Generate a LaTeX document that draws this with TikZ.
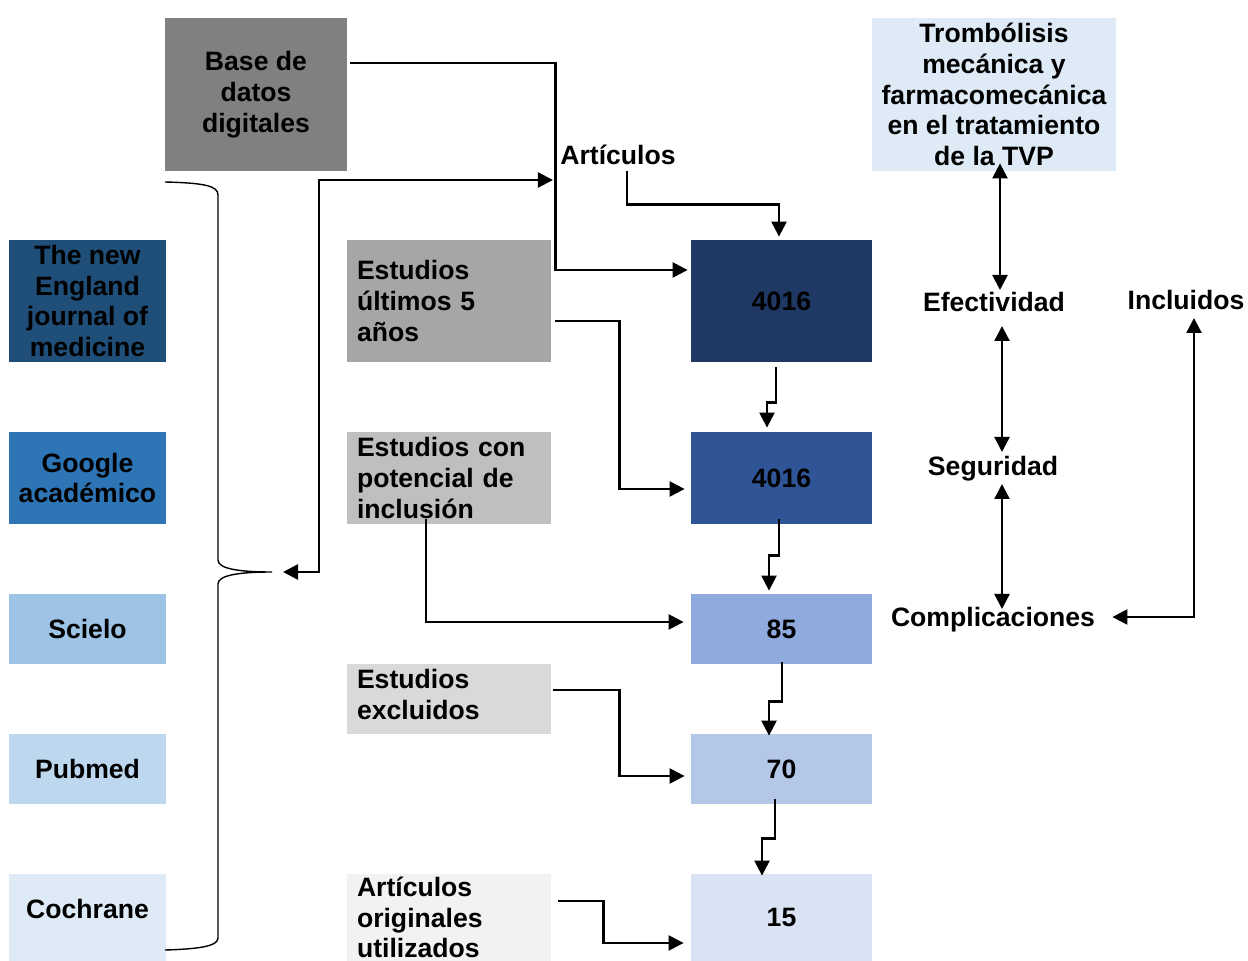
\documentclass[tikz,border=0pt]{standalone}
\usepackage{fontspec}
\setmainfont{Liberation Sans}
\usepackage{tikz}
\usetikzlibrary{arrows.meta, calc}
\definecolor{BaseGray}{RGB}{128,128,128}
\definecolor{StepGrayA}{RGB}{166,166,166}
\definecolor{StepGrayB}{RGB}{191,191,191}
\definecolor{StepGrayC}{RGB}{217,217,217}
\definecolor{StepGrayD}{RGB}{242,242,242}
\definecolor{SrcNavy}{RGB}{31,78,121}
\definecolor{SrcBlue}{RGB}{46,117,182}
\definecolor{SrcSky}{RGB}{157,195,230}
\definecolor{SrcPale}{RGB}{189,215,238}
\definecolor{SrcMist}{RGB}{222,235,247}
\definecolor{NumA}{RGB}{32,56,100}
\definecolor{NumB}{RGB}{47,85,151}
\definecolor{NumC}{RGB}{143,170,220}
\definecolor{NumD}{RGB}{180,199,231}
\definecolor{NumE}{RGB}{218,227,243}

\begin{document}
\begin{tikzpicture}[x=0.5pt,y=-0.5pt,
  every node/.style={font=\fontsize{13.3}{15.4}\selectfont\bfseries, inner sep=0pt},
  srcbox/.style={minimum width=78.5pt, align=center},
  graybox/.style={inner xsep=5pt, text width=92pt, align=left},
  numbox/.style={minimum width=90.5pt},
  conn/.style={line width=1.2pt, -{Triangle[length=7.5pt,width=7.5pt]}},
  both/.style={line width=1.2pt, {Triangle[length=7.5pt,width=7.5pt]}-{Triangle[length=7.5pt,width=7.5pt]}}]
  \path[use as bounding box] (0,0) rectangle (1248,961);

  % top boxes
  \node[fill=BaseGray, minimum width=91pt, minimum height=76.5pt, align=center] (base) at (256,94.5) {Base de\\datos\\digitales};
  \node[fill=SrcMist, minimum width=122pt, minimum height=76.5pt, align=center] (tromb) at (994,94.5)
    {Trombólisis\\mecánica y\\farmacomecánica\\en el tratamiento\\de la TVP};

  % sources
  \node[srcbox, fill=SrcNavy, minimum height=61pt] (nejm) at (87.5,301) {The new\\England\\journal of\\medicine};
  \node[srcbox, fill=SrcBlue, minimum height=46pt] (google) at (87.5,478) {Google\\académico};
  \node[srcbox, fill=SrcSky, minimum height=35pt] (scielo) at (87.5,629) {Scielo};
  \node[srcbox, fill=SrcPale, minimum height=35pt] (pubmed) at (87.5,769) {Pubmed};
  \node[srcbox, fill=SrcMist, minimum height=43.5pt] (cochrane) at (87.5,917.5) {Cochrane\\[-6.4pt]\mbox{}};

  % steps
  \node[graybox, fill=StepGrayA, minimum height=61pt] (ult) at (449,301) {Estudios\\últimos 5\\años};
  \node[graybox, fill=StepGrayB, minimum height=46pt] (pot) at (449,478) {Estudios con\\potencial de\\inclusión};
  \node[graybox, fill=StepGrayC, minimum height=35pt] (excl) at (449,699) {Estudios\\excluidos\\[-10.4pt]\mbox{}};
  \node[graybox, fill=StepGrayD, minimum height=43.5pt] (orig) at (449,917.5) {Artículos\\originales\\utilizados};

  % counts
  \node[numbox, fill=NumA, minimum height=61pt] (n1) at (781.5,301) {4016};
  \node[numbox, fill=NumB, minimum height=46pt] (n2) at (781.5,478) {4016};
  \node[numbox, fill=NumC, minimum height=35pt] (n3) at (781.5,629) {85};
  \node[numbox, fill=NumD, minimum height=35pt] (n4) at (781.5,769) {70};
  \node[numbox, fill=NumE, minimum height=43.5pt] (n5) at (781.5,917.5) {15};

  % labels
  \node (art) at (618,155) {Artículos};
  \node (efec) at (994,302) {Efectividad};
  \node (incl) at (1186,300) {Incluidos};
  \node (seg) at (993,469) {Seguridad};
  \node (compl) at (993,620) {Complicaciones};

  % brace
  \coordinate (tip) at (272,572);
  \draw[line width=0.7pt] (165,182) .. controls (205,183) and (218,186) .. (218,195) -- (218,560)
    .. controls (218,569) and (240,572) .. (tip)
    .. controls (240,572) and (218,575) .. (218,584) -- (218,938)
    .. controls (218,946) and (200,949) .. (165,950);

  % connectors
  \draw[conn] ($(base.east)+(3,-31.5)$) -- ++(205,0) |- ($(n1.west)+(-3,-31)$);
  \draw[both] ($(tip)+(11,0)$) -- ++(36,0) |- ($(art.west)+(-7,25)$);
  \draw[conn] ($(art.south)+(9,6)$) |- ($(n1.north)+(-2.5,-35)$) -- ($(n1.north)+(-2.5,-3)$);
  \draw[conn] ($(ult.east)+(4,20)$) -- ++(64,0) |- ($(n2.west)+(-6,11)$);
  \draw[conn] ($(n1.south)+(-5.5,5)$) -- ++(0,35) -| ($(n2.north)+(-14.5,-4)$);
  \draw[conn] ($(n2.south)+(-2.5,-5)$) -- ++(0,36) -| ($(n3.north)+(-12.5,-3)$);
  \draw[conn] ($(pot.south)+(-23,-5)$) |- ($(n3.west)+(-7,-7)$);
  \draw[conn] ($(n3.south)+(0.5,-2)$) -- ++(0,39) -| ($(n4.north)+(-12.5,2)$);
  \draw[conn] ($(excl.east)+(2,-9)$) -- ++(66,0) |- ($(n4.west)+(-6,7)$);
  \draw[conn] ($(n4.south)+(-6.5,-5)$) -- ++(0,39) -| ($(n5.north)+(-19.5,2)$);
  \draw[conn] ($(orig.east)+(7,-16.5)$) -- ++(45,0) |- ($(n5.west)+(-7,25.5)$);

  \draw[both] ($(tromb.south)+(6,-8)$) -- ($(efec.center)+(6,-12)$);
  \draw[both] ($(efec.center)+(8,24)$) -- ($(seg.center)+(9,-17)$);
  \draw[both] ($(seg.center)+(9,15)$) -- ($(compl.center)+(9,-11)$);
  \draw[both] ($(incl.center)+(8,18)$) |- ($(compl.east)+(17,-3)$);
\end{tikzpicture}
\end{document}
